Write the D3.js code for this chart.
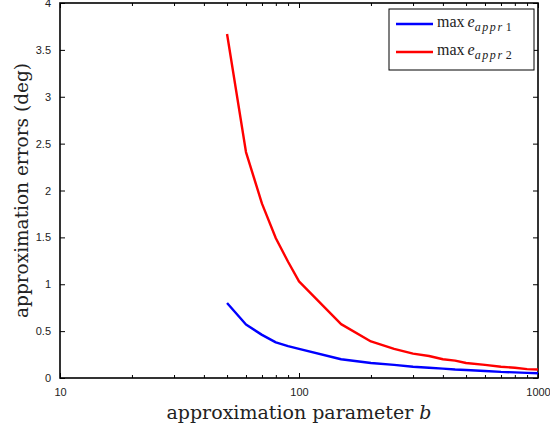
<!DOCTYPE html>
<html>
<head>
<meta charset="utf-8">
<script src="https://cdn.jsdelivr.net/npm/d3@7"></script>
<style>
  body { margin: 0; background: #fff; }
  svg { display: block; }
  .tick text { font-family: "Liberation Sans", Arial, sans-serif; font-size: 11px; fill: #222; }
</style>
</head>
<body>
<svg id="chart" width="550" height="431"></svg>
<script>
// approximation parameter b
const bValues = [50, 60, 70, 80, 90, 100, 150, 200, 250, 300, 350, 400, 450, 500, 600, 700, 800, 900, 1000];
// max e_appr1 (deg)
const err1 = [0.80, 0.57, 0.46, 0.38, 0.34, 0.31, 0.20, 0.16, 0.14, 0.12, 0.11, 0.10, 0.09, 0.085, 0.075, 0.065, 0.06, 0.055, 0.05];
// max e_appr2 (deg)
const err2 = [3.67, 2.41, 1.86, 1.49, 1.24, 1.03, 0.575, 0.39, 0.31, 0.26, 0.235, 0.20, 0.185, 0.16, 0.14, 0.12, 0.11, 0.095, 0.09];
const xTickValues = [10, 100, 1000];
const yTickValues = [0, 0.5, 1, 1.5, 2, 2.5, 3, 3.5, 4];
const seriesNames = ["appr1", "appr2"];
const seriesColors = ["#0000ff", "#ff0000"];

const svg = d3.select("#chart");
const margin = { left: 60, right: 12, top: 3, bottom: 53 };
const W = 550, H = 431;
const x0 = margin.left, x1 = W - margin.right;
const y0 = H - margin.bottom, y1 = margin.top;

const x = d3.scaleLog().domain([10, 1000]).range([x0, x1]);
const y = d3.scaleLinear().domain([0, 4]).range([y0, y1]);

const minorX = [];
for (let d = 10; d < 1000; d *= 10) for (let k = 2; k <= 9; k++) minorX.push(k * d);

// axes with inward ticks
const fmtY = d => d3.format("")(d);
const gBottom = svg.append("g").attr("transform", `translate(0,${y0})`)
  .call(d3.axisBottom(x).tickValues(xTickValues).tickFormat(d3.format("d")).tickSize(-5).tickPadding(8));
const gBottomMinor = svg.append("g").attr("transform", `translate(0,${y0})`)
  .call(d3.axisBottom(x).tickValues(minorX).tickFormat("").tickSize(-3));
const gTop = svg.append("g").attr("transform", `translate(0,${y1})`)
  .call(d3.axisTop(x).tickValues(xTickValues).tickFormat("").tickSize(-5));
const gTopMinor = svg.append("g").attr("transform", `translate(0,${y1})`)
  .call(d3.axisTop(x).tickValues(minorX).tickFormat("").tickSize(-3));
const gLeft = svg.append("g").attr("transform", `translate(${x0},0)`)
  .call(d3.axisLeft(y).tickValues(yTickValues).tickFormat(fmtY).tickSize(-5).tickPadding(9));
const gRight = svg.append("g").attr("transform", `translate(${x1},0)`)
  .call(d3.axisRight(y).tickValues(yTickValues).tickFormat("").tickSize(-5));

[gBottom, gBottomMinor, gTop, gTopMinor, gLeft, gRight].forEach(g => {
  g.select(".domain").remove();
  g.selectAll(".tick line").attr("stroke", "#000").attr("stroke-width", 1);
});
gBottom.selectAll(".tick text").attr("dy", "0.9em");

// frame
svg.append("rect")
  .attr("x", x0).attr("y", y1).attr("width", x1 - x0).attr("height", y0 - y1)
  .attr("fill", "none").attr("stroke", "#000").attr("stroke-width", 1.6);

// series
const line = d3.line().x(d => x(d[0])).y(d => y(d[1]));
[err1, err2].forEach((vals, i) => {
  svg.append("path")
    .datum(bValues.map((b, j) => [b, vals[j]]))
    .attr("d", line)
    .attr("fill", "none")
    .attr("stroke", seriesColors[i])
    .attr("stroke-width", 2.4)
    .attr("stroke-linejoin", "round");
});

// axis titles
const serif = "'DejaVu Serif', 'Liberation Serif', serif";
svg.append("text")
  .attr("x", (x0 + x1) / 2).attr("y", 419)
  .attr("text-anchor", "middle")
  .attr("font-family", serif)
  .attr("font-size", 19).attr("fill", "#222")
  .html('approximation parameter <tspan font-style="italic">b</tspan>');

svg.append("text")
  .attr("transform", `translate(28,${(y0 + y1) / 2}) rotate(-90)`)
  .attr("text-anchor", "middle")
  .attr("font-family", serif)
  .attr("font-size", 18.5).attr("fill", "#222")
  .text("approximation errors (deg)");

// legend
const lg = svg.append("g");
lg.append("rect")
  .attr("x", 389).attr("y", 9).attr("width", 145).attr("height", 61)
  .attr("fill", "#fff").attr("stroke", "#000").attr("stroke-width", 1);
seriesNames.forEach((name, i) => {
  const ly = 24 + i * 28;
  lg.append("line")
    .attr("x1", 396).attr("x2", 433).attr("y1", ly).attr("y2", ly)
    .attr("stroke", seriesColors[i]).attr("stroke-width", 2.4);
  const t = lg.append("text")
    .attr("x", 437).attr("y", ly + 3)
    .attr("font-family", "'Liberation Serif', serif")
    .attr("font-size", 16).attr("fill", "#222");
  t.append("tspan").text("max");
  t.append("tspan").attr("dx", 3).attr("font-style", "italic").text("e");
  t.append("tspan").attr("dy", 4).attr("font-size", 12).attr("font-style", "italic").attr("letter-spacing", 1.6).text(name.replace(/\d$/, ""));
  t.append("tspan").attr("dx", 2).attr("font-size", 12).text(name.slice(-1));
});
</script>
</body>
</html>
